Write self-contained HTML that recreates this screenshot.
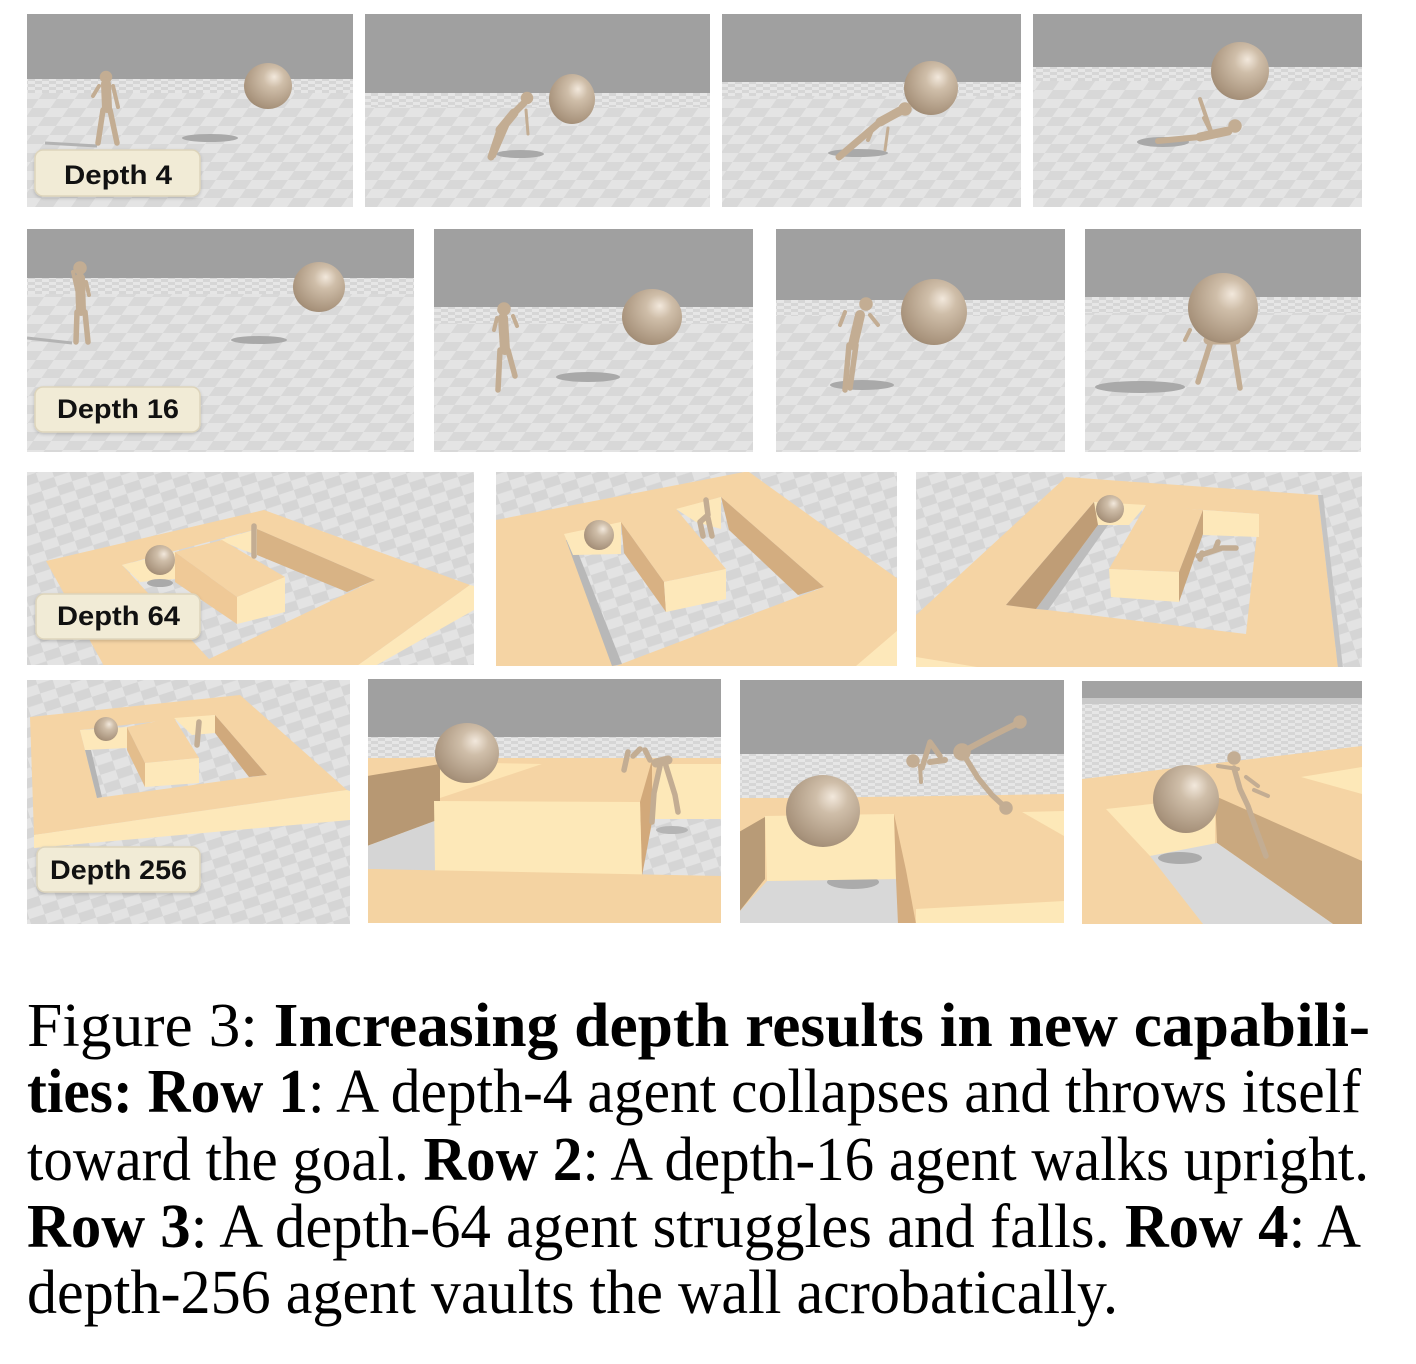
<!DOCTYPE html>
<html><head><meta charset="utf-8"><style>
html,body{margin:0;padding:0;background:#fff;}
svg{display:block}
.ag{stroke:#c3ad93;stroke-width:5.5;stroke-linecap:round;stroke-linejoin:round;fill:none}
.lb{font-family:"Liberation Sans",Arial,sans-serif;font-weight:bold;font-size:27px;fill:#111}
.cap{font-family:"Liberation Serif","Times New Roman",serif;font-size:62px;fill:#000}
</style></head><body>
<svg width="1416" height="1364" viewBox="0 0 1416 1364" xmlns="http://www.w3.org/2000/svg">
<defs>
<radialGradient id="bg" cx="0.6" cy="0.36" r="0.72" fx="0.63" fy="0.3">
<stop offset="0" stop-color="#f2e8dc"/><stop offset="0.3" stop-color="#cfbea9"/><stop offset="0.85" stop-color="#a9947d"/><stop offset="1" stop-color="#9a8670"/>
</radialGradient>
<pattern id="pf" width="36" height="36" patternUnits="userSpaceOnUse" patternTransform="skewX(-35) scale(1,0.5)">
<rect width="36" height="36" fill="#e4e4e4"/><rect width="18" height="18" fill="#d8d8d8"/><rect x="18" y="18" width="18" height="18" fill="#d8d8d8"/>
</pattern>
<pattern id="pc" width="32" height="32" patternUnits="userSpaceOnUse" patternTransform="rotate(-18) scale(1,0.6)">
<rect width="32" height="32" fill="#e3e3e3"/><rect width="16" height="16" fill="#d5d5d5"/><rect x="16" y="16" width="16" height="16" fill="#d5d5d5"/>
</pattern>
<pattern id="ph" width="14" height="6" patternUnits="userSpaceOnUse">
<rect width="14" height="6" fill="#e6e6e6"/><rect width="7" height="3" fill="#d6d6d6"/><rect x="7" y="3" width="7" height="3" fill="#d6d6d6"/>
</pattern>
<filter id="sh" x="-10%" y="-10%" width="120%" height="130%"><feDropShadow dx="0" dy="1.5" stdDeviation="1.5" flood-color="#000" flood-opacity="0.18"/></filter>
</defs>

<!-- ROW 1 -->
<svg x="27" y="14" width="326" height="193" viewBox="27 14 326 193">
<rect x="27" y="14" width="326" height="193" fill="url(#pf)"/>
<rect x="27" y="79" width="326" height="14" fill="url(#ph)"/>
<rect x="27" y="14" width="326" height="65" fill="#a0a0a0"/>
<ellipse cx="210" cy="138" rx="28" ry="4" fill="#a9a9a9"/>
<line x1="45" y1="143" x2="97" y2="146" stroke="#b3b3b3" stroke-width="3"/>
<ellipse cx="268" cy="86" rx="24" ry="23" fill="url(#bg)"/>
<g class="ag"><circle cx="106" cy="77" r="3.5" fill="#c3ad93"/><line x1="106" y1="84" x2="107" y2="108" stroke-width="10"/><line x1="103" y1="110" x2="98" y2="143"/><line x1="110" y1="110" x2="117" y2="143"/><line x1="99" y1="86" x2="93" y2="96" stroke-width="4"/><line x1="113" y1="86" x2="118" y2="107" stroke-width="4"/></g>
<rect x="35" y="150" width="165" height="46" rx="8" fill="#f1ebd6" stroke="#ddd4bb" stroke-width="1.5" filter="url(#sh)"/>
<text class="lb" x="64" y="184" textLength="108" lengthAdjust="spacingAndGlyphs">Depth 4</text>
</svg>

<svg x="365" y="14" width="345" height="193" viewBox="365 14 345 193">
<rect x="365" y="14" width="345" height="193" fill="url(#pf)"/>
<rect x="365" y="93" width="345" height="14" fill="url(#ph)"/>
<rect x="365" y="14" width="345" height="79" fill="#a0a0a0"/>
<ellipse cx="520" cy="154" rx="24" ry="4" fill="#a9a9a9"/>
<ellipse cx="572" cy="99" rx="23" ry="25" fill="url(#bg)"/>
<g class="ag"><line x1="491" y1="157" x2="500" y2="130" stroke-width="7"/><line x1="500" y1="130" x2="514" y2="113" stroke-width="9"/><line x1="514" y1="113" x2="524" y2="103" stroke-width="7"/><circle cx="527" cy="98" r="3.5" fill="#c3ad93"/><line x1="526" y1="110" x2="528" y2="134" stroke-width="3"/><line x1="494" y1="156" x2="507" y2="126" stroke-width="4"/></g>
</svg>

<svg x="722" y="14" width="299" height="193" viewBox="722 14 299 193">
<rect x="722" y="14" width="299" height="193" fill="url(#pf)"/>
<rect x="722" y="82" width="299" height="14" fill="url(#ph)"/>
<rect x="722" y="14" width="299" height="68" fill="#a0a0a0"/>
<ellipse cx="858" cy="153" rx="30" ry="4" fill="#a9a9a9"/>
<ellipse cx="931" cy="88" rx="27" ry="27" fill="url(#bg)"/>
<g class="ag"><line x1="839" y1="157" x2="880" y2="122" stroke-width="7"/><line x1="880" y1="122" x2="900" y2="111" stroke-width="9"/><circle cx="905" cy="109" r="4" fill="#c3ad93"/><line x1="888" y1="128" x2="885" y2="150" stroke-width="3"/><line x1="872" y1="130" x2="868" y2="140" stroke-width="4"/></g>
</svg>

<svg x="1033" y="14" width="329" height="193" viewBox="1033 14 329 193">
<rect x="1033" y="14" width="329" height="193" fill="url(#pf)"/>
<rect x="1033" y="67" width="329" height="14" fill="url(#ph)"/>
<rect x="1033" y="14" width="329" height="53" fill="#a0a0a0"/>
<ellipse cx="1163" cy="142" rx="26" ry="5" fill="#a9a9a9"/>
<ellipse cx="1240" cy="71" rx="29" ry="29" fill="url(#bg)"/>
<g class="ag"><line x1="1158" y1="141" x2="1200" y2="137" stroke-width="6"/><line x1="1200" y1="137" x2="1228" y2="131" stroke-width="9"/><circle cx="1235" cy="126" r="4" fill="#c3ad93"/><line x1="1200" y1="99" x2="1212" y2="134" stroke-width="4"/><line x1="1212" y1="134" x2="1204" y2="118" stroke-width="4"/></g>
</svg>

<!-- ROW 2 -->
<svg x="27" y="229" width="387" height="223" viewBox="27 229 387 223">
<rect x="27" y="229" width="387" height="223" fill="url(#pf)"/>
<rect x="27" y="278" width="387" height="16" fill="url(#ph)"/>
<rect x="27" y="229" width="387" height="49" fill="#a0a0a0"/>
<ellipse cx="259" cy="340" rx="28" ry="4" fill="#a9a9a9"/>
<line x1="27" y1="338" x2="72" y2="343" stroke="#b3b3b3" stroke-width="3"/>
<ellipse cx="319" cy="287" rx="26" ry="25" fill="url(#bg)"/>
<g class="ag"><circle cx="80" cy="268" r="4" fill="#c3ad93"/><line x1="80" y1="278" x2="81" y2="311" stroke-width="10"/><line x1="77" y1="312" x2="76" y2="342"/><line x1="85" y1="312" x2="88" y2="342"/><line x1="73" y1="272" x2="77" y2="290" stroke-width="4"/><line x1="86" y1="282" x2="89" y2="295" stroke-width="4"/></g>
<rect x="35" y="387" width="165" height="45" rx="8" fill="#f1ebd6" stroke="#ddd4bb" stroke-width="1.5" filter="url(#sh)"/>
<text class="lb" x="57" y="418" textLength="122" lengthAdjust="spacingAndGlyphs">Depth 16</text>
</svg>

<svg x="434" y="229" width="319" height="223" viewBox="434 229 319 223">
<rect x="434" y="229" width="319" height="223" fill="url(#pf)"/>
<rect x="434" y="307" width="319" height="16" fill="url(#ph)"/>
<rect x="434" y="229" width="319" height="78" fill="#a0a0a0"/>
<ellipse cx="588" cy="377" rx="32" ry="5" fill="#a9a9a9"/>
<ellipse cx="652" cy="317" rx="30" ry="28" fill="url(#bg)"/>
<g class="ag"><circle cx="504" cy="309" r="4" fill="#c3ad93"/><line x1="503" y1="318" x2="505" y2="350" stroke-width="10"/><line x1="500" y1="350" x2="498" y2="390"/><line x1="508" y1="350" x2="515" y2="376"/><line x1="497" y1="318" x2="494" y2="330" stroke-width="4"/><line x1="513" y1="316" x2="517" y2="326" stroke-width="4"/></g>
</svg>

<svg x="776" y="229" width="289" height="223" viewBox="776 229 289 223">
<rect x="776" y="229" width="289" height="223" fill="url(#pf)"/>
<rect x="776" y="300" width="289" height="16" fill="url(#ph)"/>
<rect x="776" y="229" width="289" height="71" fill="#a0a0a0"/>
<ellipse cx="862" cy="385" rx="32" ry="5" fill="#a9a9a9"/>
<ellipse cx="934" cy="312" rx="33" ry="33" fill="url(#bg)"/>
<g class="ag"><circle cx="866" cy="304" r="4" fill="#c3ad93"/><line x1="860" y1="315" x2="853" y2="345" stroke-width="10"/><line x1="849" y1="345" x2="845" y2="390"/><line x1="856" y1="345" x2="850" y2="388"/><line x1="845" y1="312" x2="840" y2="325" stroke-width="4"/><line x1="870" y1="315" x2="878" y2="325" stroke-width="4"/></g>
</svg>

<svg x="1085" y="229" width="276" height="223" viewBox="1085 229 276 223">
<rect x="1085" y="229" width="276" height="223" fill="url(#pf)"/>
<rect x="1085" y="297" width="276" height="16" fill="url(#ph)"/>
<rect x="1085" y="229" width="276" height="68" fill="#a0a0a0"/>
<ellipse cx="1140" cy="387" rx="45" ry="6" fill="#a9a9a9"/>
<g class="ag"><line x1="1212" y1="338" x2="1198" y2="382"/><line x1="1232" y1="338" x2="1240" y2="388"/><line x1="1190" y1="330" x2="1185" y2="340" stroke-width="4"/><line x1="1208" y1="340" x2="1236" y2="340" stroke-width="9"/></g>
<ellipse cx="1223" cy="308" rx="35" ry="35" fill="url(#bg)"/>
</svg>

<!-- ROW 3 -->
<svg x="27" y="472" width="447" height="193" viewBox="27 472 447 193">
<rect x="27" y="472" width="447" height="193" fill="url(#pc)"/>
<polygon points="46,561 264,510 470,585 357,666 104,666" fill="#f5d4a4"/>
<polygon points="470,585 474,586 474,610 375,666 357,666" fill="#fde8ba"/>
<polygon points="122,565 257,529 375,580 209,659" fill="url(#pc)"/>
<polygon points="122,565 175,552 175,579 140,582" fill="#fde8ba"/>
<polygon points="220,540 257,529 257,555 240,549" fill="#fde8ba"/>
<polygon points="257,529 375,580 347,592 257,555" fill="#d8b385"/>
<polygon points="175,552 222,540 285,577 237,597" fill="#f5d4a4"/>
<polygon points="175,552 237,597 237,624 175,582" fill="#efc997"/>
<polygon points="237,597 285,577 285,612 237,624" fill="#fde8ba"/>
<ellipse cx="160" cy="583" rx="13" ry="4" fill="#aaa"/>
<circle cx="160" cy="560" r="15" fill="url(#bg)"/>
<line x1="254" y1="526" x2="254" y2="556" class="ag" stroke-width="3"/>
<rect x="36" y="594" width="164" height="45" rx="8" fill="#f1ebd6" stroke="#ddd4bb" stroke-width="1.5" filter="url(#sh)"/>
<text class="lb" x="57" y="625" textLength="123" lengthAdjust="spacingAndGlyphs">Depth 64</text>
</svg>

<svg x="496" y="472" width="401" height="194" viewBox="496 472 401 194">
<rect x="496" y="472" width="401" height="194" fill="url(#pc)"/>
<polygon points="496,520 744,472 749,472 898,579 898,666 496,666" fill="#f5d4a4"/>
<polygon points="898,630 898,666 856,666" fill="#fde8ba"/>
<polygon points="566,540 721,497 824,587 616,666" fill="url(#pc)"/>
<polygon points="566,540 573,540 622,664 612,666" fill="#b8b8b8"/>
<polygon points="564,534 621,522 621,554 573,555" fill="#fde8ba"/>
<polygon points="676,509 721,497 721,529 696,522" fill="#fde8ba"/>
<polygon points="721,497 824,587 798,595 729,530" fill="#d3ad80"/>
<polygon points="621,522 676,509 726,569 664,582" fill="#f5d4a4"/>
<polygon points="621,522 664,582 666,612 624,553" fill="#d8b183"/>
<polygon points="664,582 726,569 726,599 666,612" fill="#fde8ba"/>
<circle cx="599" cy="535" r="15" fill="url(#bg)"/>
<g class="ag" stroke-width="3"><polyline points="706,500 708,515 700,522 703,536"/><line x1="708" y1="518" x2="712" y2="536"/></g>
</svg>

<svg x="916" y="472" width="446" height="195" viewBox="916 472 446 195">
<rect x="916" y="472" width="446" height="195" fill="url(#pc)"/>
<polygon points="1066,477 1318,495 1338,668 916,668 916,615" fill="#f5d4a4"/>
<polygon points="1318,495 1323,495 1343,668 1338,668" fill="#c4c4c4"/>
<polygon points="916,657 983,668 916,668" fill="#fde8ba"/>
<polygon points="1094,502 1259,514 1246,634 1006,605" fill="url(#pc)"/>
<polygon points="1098,525 1108,525 1048,610 1036,609" fill="#bdbdbd"/>
<polygon points="1094,502 1146,505 1129,525 1098,525" fill="#fde8ba"/>
<polygon points="1094,502 1098,525 1036,609 1006,605" fill="#bf9d76"/>
<polygon points="1146,505 1203,510 1179,572 1109,569" fill="#f5d4a4"/>
<polygon points="1203,510 1259,514 1259,537 1203,535" fill="#fde8ba"/>
<polygon points="1203,510 1203,534 1179,602 1179,572" fill="#c9a67c"/>
<polygon points="1109,569 1179,572 1179,602 1111,597" fill="#fde8ba"/>
<circle cx="1110" cy="509" r="14" fill="url(#bg)"/>
<g class="ag" stroke-width="3"><polyline points="1198,556 1210,552 1222,548 1236,548"/><line x1="1215" y1="550" x2="1218" y2="542"/><line x1="1202" y1="553" x2="1200" y2="559"/></g>
</svg>

<!-- ROW 4 -->
<svg x="27" y="680" width="323" height="244" viewBox="27 680 323 244">
<rect x="27" y="680" width="323" height="244" fill="url(#pc)"/>
<polygon points="30,717 240,695 347,790 34,835" fill="#f5d4a4"/>
<polygon points="34,835 347,790 350,791 350,820 34,848" fill="#fde8ba"/>
<polygon points="80,730 215,715 267,775 97,798" fill="url(#pc)"/>
<polygon points="85,750 91,750 102,797 97,798" fill="#b5b5b5"/>
<polygon points="80,730 127,727 127,748 85,750" fill="#fde8ba"/>
<polygon points="174,718 215,715 215,733 192,735" fill="#fde8ba"/>
<polygon points="215,715 267,775 249,777 215,733" fill="#d0a97c"/>
<polygon points="127,727 174,718 199,758 145,763" fill="#f5d4a4"/>
<polygon points="127,727 145,763 145,787 127,750" fill="#e3bd8c"/>
<polygon points="145,763 199,758 199,783 145,787" fill="#fde8ba"/>
<circle cx="106" cy="729" r="12" fill="url(#bg)"/>
<line x1="199" y1="722" x2="197" y2="745" class="ag" stroke-width="3"/>
<rect x="37" y="847" width="163" height="45" rx="8" fill="#f1ebd6" stroke="#ddd4bb" stroke-width="1.5" filter="url(#sh)"/>
<text class="lb" x="50" y="879" textLength="137" lengthAdjust="spacingAndGlyphs">Depth 256</text>
</svg>

<svg x="368" y="679" width="353" height="244" viewBox="368 679 353 244">
<rect x="368" y="679" width="353" height="244" fill="#f5d4a4"/>
<rect x="368" y="679" width="353" height="58" fill="#a0a0a0"/>
<rect x="368" y="737" width="353" height="21" fill="url(#ph)"/>
<polygon points="367,759 439,757 440,764 367,776" fill="#f5d4a4"/>
<polygon points="367,776 440,764 440,819 367,846" fill="#b79873"/>
<polygon points="367,846 440,819 440,871 367,869" fill="#d5d5d5"/>
<polygon points="440,762 542,764 440,798" fill="#fde5b4"/>
<polygon points="657,764 723,764 723,819 652,819" fill="#fde8b8"/>
<polygon points="650,819 723,819 723,876 642,876" fill="url(#pc)"/>
<ellipse cx="672" cy="830" rx="16" ry="4" fill="#b5b5b5"/>
<polygon points="640,802 652,760 652,822 642,876" fill="#d2a97a"/>
<polygon points="434,801 640,802 642,876 435,871" fill="#fde8b8"/>
<polygon points="367,869 723,876 723,923 367,923" fill="#f4d3a2"/>
<ellipse cx="467" cy="753" rx="32" ry="30" fill="url(#bg)"/>
<g class="ag"><line x1="624" y1="770" x2="628" y2="752"/><line x1="633" y1="756" x2="640" y2="749"/><line x1="645" y1="750" x2="650" y2="760"/><line x1="656" y1="763" x2="668" y2="760" stroke-width="9"/><polyline points="660,766 654,793 652,822"/><polyline points="666,766 675,795 678,812"/></g>
</svg>

<svg x="740" y="680" width="324" height="243" viewBox="740 680 324 243">
<rect x="740" y="680" width="324" height="243" fill="#f5d4a4"/>
<rect x="740" y="680" width="324" height="74" fill="#a0a0a0"/>
<rect x="740" y="754" width="324" height="44" fill="url(#ph)"/>
<polygon points="740,799 1064,794 1064,923 740,923" fill="#f5d4a4"/>
<polygon points="739,832 765,817 765,879 739,912" fill="#b89b77"/>
<polygon points="739,912 767,881 896,879 902,924 739,924" fill="#d8d8d8"/>
<ellipse cx="853" cy="882" rx="26" ry="7" fill="#ababab"/>
<polygon points="765,816 894,814 896,879 767,881" fill="#fde8b8"/>
<polygon points="894,814 906,870 916,924 898,924 896,879" fill="#d4ad80"/>
<polygon points="916,909 1064,901 1064,924 916,924" fill="#fde8b8"/>
<polygon points="1022,812 1064,811 1064,836" fill="#fde8b8"/>
<ellipse cx="823" cy="811" rx="37" ry="36" fill="url(#bg)"/>
<g class="ag"><polyline points="962,752 992,736 1020,722" stroke-width="6"/><polyline points="962,752 978,778 992,795 1006,808"/><circle cx="913" cy="761" r="4" fill="#c3ad93"/><polyline points="922,768 930,742 940,756"/><line x1="920" y1="766" x2="921" y2="782" stroke-width="4"/><line x1="930" y1="762" x2="945" y2="760" stroke-width="6"/><circle cx="962" cy="752" r="6" fill="#c3ad93"/><circle cx="1020" cy="722" r="4" fill="#c3ad93"/><circle cx="1006" cy="808" r="4" fill="#c3ad93"/></g>
</svg>

<svg x="1082" y="681" width="280" height="243" viewBox="1082 681 280 243">
<rect x="1082" y="681" width="280" height="243" fill="url(#ph)"/>
<rect x="1082" y="681" width="280" height="17" fill="#a3a3a3"/>
<rect x="1082" y="698" width="280" height="6" fill="#c9c9c9"/>
<polygon points="1082,779 1362,746 1362,924 1082,924" fill="#f5d4a4"/>
<polygon points="1301,777 1362,767 1362,794" fill="#fde8b8"/>
<polygon points="1106,809 1215,797 1215,846 1150,856" fill="#fde8b8"/>
<polygon points="1215,796 1362,861 1362,924 1333,924 1217,843" fill="#c9a87f"/>
<polygon points="1150,856 1217,843 1333,924 1203,924" fill="#d9d9d9"/>
<ellipse cx="1180" cy="858" rx="22" ry="6" fill="#ababab"/>
<ellipse cx="1186" cy="799" rx="33" ry="34" fill="url(#bg)"/>
<g class="ag"><circle cx="1234" cy="758" r="4" fill="#c3ad93"/><polyline points="1234,768 1240,789 1248,806 1256,829 1266,856"/><line x1="1218" y1="766" x2="1238" y2="769" stroke-width="4"/><line x1="1246" y1="777" x2="1258" y2="786" stroke-width="4"/><line x1="1254" y1="790" x2="1268" y2="796" stroke-width="4"/></g>
</svg>

<!-- CAPTION -->
<text class="cap" x="27" y="1046" textLength="1343" lengthAdjust="spacingAndGlyphs">Figure 3: <tspan font-weight="bold">Increasing depth results in new capabili-</tspan></text>
<text class="cap" x="27" y="1112" textLength="1334" lengthAdjust="spacingAndGlyphs"><tspan font-weight="bold">ties: Row 1</tspan>: A depth-4 agent collapses and throws itself</text>
<text class="cap" x="27" y="1180" textLength="1342" lengthAdjust="spacingAndGlyphs">toward the goal. <tspan font-weight="bold">Row 2</tspan>: A depth-16 agent walks upright.</text>
<text class="cap" x="27" y="1247" textLength="1334" lengthAdjust="spacingAndGlyphs"><tspan font-weight="bold">Row 3</tspan>: A depth-64 agent struggles and falls. <tspan font-weight="bold">Row 4</tspan>: A</text>
<text class="cap" x="27" y="1313" textLength="1091" lengthAdjust="spacingAndGlyphs">depth-256 agent vaults the wall acrobatically.</text>
</svg>
</body></html>
